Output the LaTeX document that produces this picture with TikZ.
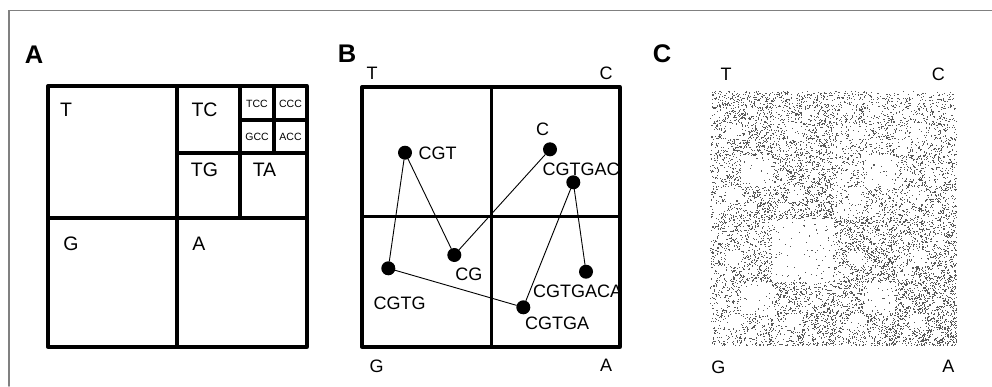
\documentclass[tikz,border=0pt]{standalone}
\usepackage{fontspec}
\setmainfont{Liberation Sans}
\tikzset{
  boxline/.style={line width=3.3pt, line cap=round, line join=round},
  paneltag/.style={font=\fontsize{25.5}{27}\selectfont\bfseries, inner sep=0pt},
  quadlbl/.style={font=\fontsize{19.5}{21}\selectfont, inner sep=0pt},
  smalllbl/.style={font=\fontsize{10.5}{12}\selectfont, inner sep=0pt},
  seqlbl/.style={font=\fontsize{18}{20}\selectfont, inner sep=0pt},
  cgrdot/.style={circle, fill=black, minimum size=14pt, inner sep=0pt},
}

\begin{document}
\begin{tikzpicture}[x=1pt, y=-1pt, line cap=round]
\useasboundingbox (0,0) rectangle (992,386);
\draw [gray, line width=1.5pt] (9,386) -- (9,10.5) -- (992,10.5);

%Panel A: quadrants%%%%%%%%%%%%%%%%%%%%%%%%%
\node [paneltag] (tagA) at (34,54.5) {A};
\draw [boxline] (48,86) rectangle (307,347);
\draw [boxline] (177,86) -- (177,347);
\draw [boxline] (48,218) -- (307,218);
\draw [boxline] (240,86) -- (240,218);
\draw [boxline] (177,153) -- (307,153);
\draw [boxline] (274,86) -- (274,153);
\draw [boxline] (240,120) -- (307,120);
\node [quadlbl] (qT) at (66,110) {T};
\node [quadlbl] (qTC) at (204.5,110) {TC};
\node [quadlbl] (qTG) at (204.5,170) {TG};
\node [quadlbl] (qTA) at (264.5,170) {TA};
\node [quadlbl] (qG) at (71,243.5) {G};
\node [quadlbl] (qA) at (199,243.5) {A};
\node [smalllbl] (qTCC) at (257,104) {TCC};
\node [smalllbl] (qCCC) at (290.5,104) {CCC};
\node [smalllbl] (qGCC) at (257,137) {GCC};
\node [smalllbl] (qACC) at (290.5,137) {ACC};

%Panel B: chaos game walk%%%%%%%%%%%%%%%%%%%
\node [paneltag] (tagB) at (347,54) {B};
\draw [boxline] (362,87) rectangle (620,347);
\draw [boxline] (491.7,87) -- (491.7,347);
\draw [boxline] (362,216.7) -- (620,216.7);
\node [seqlbl] (bT) at (372,73.7) {T};
\node [seqlbl] (bC) at (606,73.7) {C};
\node [seqlbl] (bG) at (376.7,366.7) {G};
\node [seqlbl] (bA) at (606,365) {A};
%dots
\node [cgrdot] (c) at (550,149.3) {};
\node [cgrdot] (cg) at (454.3,255) {};
\node [cgrdot] (cgt) at (405,152.7) {};
\node [cgrdot] (cgtg) at (388.3,268.3) {};
\node [cgrdot] (cgtga) at (523.3,307.3) {};
\node [cgrdot] (cgtgac) at (573.3,182.3) {};
\node [cgrdot] (cgtgaca) at (586,271.7) {};
%line
\draw [line width=0.9pt] (c) -- (cg) -- (cgt) -- (cgtg) -- (cgtga) -- (cgtgac) -- (cgtgaca);
%labels
\node [seqlbl] (lc) at (542.5,129.5) {C};
\node [seqlbl] (lcg) at (468.8,274.2) {CG};
\node [seqlbl] (lcgt) at (437.7,153) {CGT};
\node [seqlbl] (lcgtg) at (399.7,303.3) {CGTG};
\node [seqlbl] (lcgtga) at (557,322.8) {CGTGA};
\node [seqlbl] (lcgtgac) at (581,169.7) {CGTGAC};
\node [seqlbl] (lcgtgaca) at (577.5,291.5) {CGTGACA};

%Panel C: many points%%%%%%%%%%%%%%%%%%%%%%%
\node [paneltag] (tagC) at (662,54) {C};
\node [seqlbl] (cT) at (726,74.2) {T};
\node [seqlbl] (cC) at (938.3,74.2) {C};
\node [seqlbl] (cG) at (718.3,367) {G};
\node [seqlbl] (cA) at (948.3,366) {A};
\pgfmathsetseed{4711}
\xdef\px{0.5}\xdef\py{0.5}\xdef\prev{1}
\foreach \k in {1,...,9500}{
  \pgfmathsetmacro{\r}{rnd}
  \pgfmathtruncatemacro{\nt}{\prev==2 ? (\r<0.36 ? 1 : (\r<0.6 ? 2 : (\r<0.64 ? 3 : 4))) : (\r<0.27 ? 1 : (\r<0.46 ? 2 : (\r<0.69 ? 3 : 4)))}
  \pgfmathsetmacro{\nx}{(\px+1-mod(\nt,2))/2}
  \pgfmathsetmacro{\ny}{(\py+(\nt>2))/2}
  \xdef\px{\nx}\xdef\py{\ny}\xdef\prev{\nt}
  \fill [black!65] ({710+246*\nx},{91+254*\ny}) rectangle ++(1.1,1.1);
}
\end{tikzpicture}
\end{document}
